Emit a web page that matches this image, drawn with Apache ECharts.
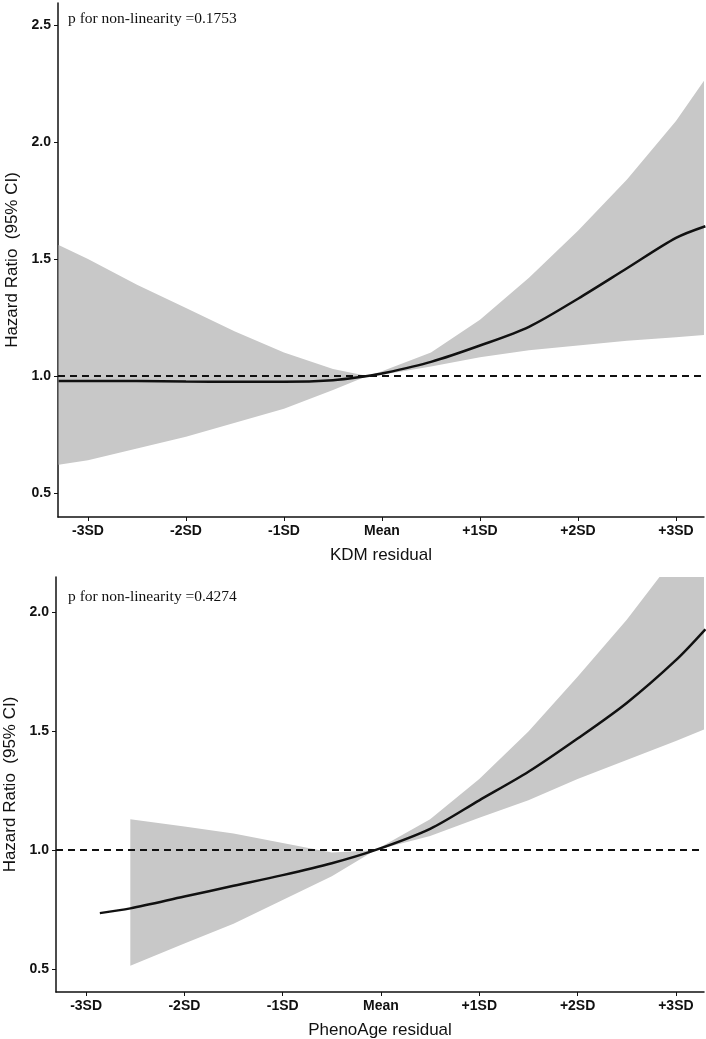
<!DOCTYPE html>
<html>
<head>
<meta charset="utf-8">
<script src="https://cdn.jsdelivr.net/npm/echarts@6/dist/echarts.min.js"></script>
<style>
html,body{margin:0;padding:0;background:#fff;}
#chart{width:706px;height:1039px;}
</style>
</head>
<body>
<div id="chart"></div>
<script>
// ---- tick definitions ----
const xTicks = [-3, -2, -1, 0, 1, 2, 3];
const xTickLabels = ['-3SD', '-2SD', '-1SD', 'Mean', '+1SD', '+2SD', '+3SD'];
const yTicksTop = [0.5, 1.0, 1.5, 2.0, 2.5];
const yTicksBottom = [0.5, 1.0, 1.5, 2.0];

// ---- KDM residual (top panel) ----
const kdmX     = [-3.3, -3, -2.5, -2, -1.5, -1, -0.5, -0.15, 0, 0.5, 1, 1.5, 2, 2.5, 3, 3.3];
const kdmHR    = [0.978, 0.978, 0.978, 0.976, 0.975, 0.975, 0.982, 1.0, 1.01, 1.06, 1.13, 1.21, 1.33, 1.46, 1.59, 1.64];
const kdmUpper = [1.56, 1.50, 1.39, 1.29, 1.19, 1.10, 1.03, 1.0, 1.02, 1.10, 1.24, 1.42, 1.62, 1.84, 2.09, 2.27];
const kdmLower = [0.62, 0.64, 0.69, 0.74, 0.80, 0.86, 0.94, 1.0, 1.005, 1.04, 1.08, 1.11, 1.13, 1.15, 1.165, 1.175];

// ---- PhenoAge residual (bottom panel) ----
const phenoX      = [-2.86, -2.55, -2, -1.5, -1, -0.5, -0.06, 0.5, 1, 1.5, 2, 2.5, 3, 3.3];
const phenoHR     = [0.735, 0.755, 0.805, 0.85, 0.895, 0.945, 1.0, 1.09, 1.21, 1.33, 1.47, 1.62, 1.80, 1.93];
const phenoBandX  = [-2.55, -2, -1.5, -1, -0.5, -0.06, 0.5, 1, 1.5, 2, 2.5, 3, 3.3];
const phenoUpper  = [1.13, 1.10, 1.07, 1.03, 0.99, 1.0, 1.13, 1.30, 1.50, 1.73, 1.97, 2.24, 2.42];
const phenoLower  = [0.513, 0.607, 0.69, 0.79, 0.89, 1.0, 1.06, 1.137, 1.21, 1.30, 1.38, 1.46, 1.51];

const pTexts = ['p for non-linearity =0.1753', 'p for non-linearity =0.4274'];
const xNames = ['KDM residual', 'PhenoAge residual'];
const yName = 'Hazard Ratio  (95% CI)';

const zip = (xs, ys) => xs.map((x, i) => [x, ys[i]]);
const zip3 = (xs, a, b) => xs.map((x, i) => [x, a[i], b[i]]);

const BAND = '#c8c8c8';
const INK = '#111';

function xAxis(gi, name) {
  return {
    type: 'value', gridIndex: gi, min: -3.306, max: 3.286,
    name: name, nameLocation: 'middle', nameGap: 30,
    nameTextStyle: { fontFamily: 'Liberation Sans', fontSize: 17, color: INK },
    axisLine: { show: true, onZero: false, lineStyle: { color: INK, width: 1.5 } },
    axisTick: { show: true, length: 4, customValues: xTicks, lineStyle: { color: INK, width: 1 } },
    axisLabel: {
      customValues: xTicks, margin: 7,
      fontFamily: 'Liberation Sans', fontSize: 14, fontWeight: 'bold', color: INK,
      formatter: v => xTickLabels[xTicks.indexOf(Math.round(v))]
    },
    splitLine: { show: false }
  };
}
function yAxis(gi, min, max, ticks) {
  return {
    type: 'value', gridIndex: gi, min: min, max: max,
    name: yName, nameLocation: 'middle', nameGap: 36, nameRotate: 90,
    nameTextStyle: { fontFamily: 'Liberation Sans', fontSize: 17, color: INK },
    axisLine: { show: true, onZero: false, lineStyle: { color: INK, width: 1.5 } },
    axisTick: { show: true, length: 4, customValues: ticks, lineStyle: { color: INK, width: 1 } },
    axisLabel: {
      customValues: ticks, margin: 7,
      fontFamily: 'Liberation Sans', fontSize: 14, fontWeight: 'bold', color: INK,
      formatter: v => v.toFixed(1)
    },
    splitLine: { show: false }
  };
}
function bandSeries(gi, xs, up, lo) {
  return {
    type: 'custom', xAxisIndex: gi, yAxisIndex: gi, clip: true, silent: true, z: 1,
    data: zip3(xs, up, lo),
    encode: { x: 0, y: [1, 2] },
    renderItem: function (params, api) {
      if (params.dataIndexInside !== 0) return null;
      const n = params.dataInsideLength;
      const top = [], bot = [];
      for (let i = 0; i < n; i++) {
        const x = api.value(0, i);
        top.push(api.coord([x, api.value(1, i)]));
        bot.push(api.coord([x, api.value(2, i)]));
      }
      return {
        type: 'polygon',
        shape: { points: top.concat(bot.reverse()) },
        style: { fill: BAND, stroke: null }
      };
    }
  };
}
function hrSeries(gi, xs, ys) {
  return { type: 'line', xAxisIndex: gi, yAxisIndex: gi, data: zip(xs, ys),
    symbol: 'none', smooth: 0.3, lineStyle: { color: INK, width: 2.5 }, z: 5,
    markLine: { silent: true, symbol: ['none', 'none'], label: { show: false },
      lineStyle: { color: INK, width: 2, type: [7, 5] },
      data: [{ yAxis: 1 }] } };
}

const chart = echarts.init(document.getElementById('chart'), null, { renderer: 'canvas' });
chart.setOption({
  backgroundColor: '#fff',
  animation: false,
  title: [
    { text: pTexts[0], left: 63, top: 6,
      textStyle: { fontFamily: 'Liberation Serif', fontSize: 15.5, fontWeight: 'normal', color: INK } },
    { text: pTexts[1], left: 63, top: 584,
      textStyle: { fontFamily: 'Liberation Serif', fontSize: 15.5, fontWeight: 'normal', color: INK } }
  ],
  grid: [
    { left: 58, right: 2, top: 3, height: 514, containLabel: false, outerBoundsMode: 'none' },
    { left: 56, right: 2, top: 577, height: 415, containLabel: false, outerBoundsMode: 'none' }
  ],
  xAxis: [xAxis(0, xNames[0]), xAxis(1, xNames[1])],
  yAxis: [yAxis(0, 0.397, 2.594, yTicksTop), yAxis(1, 0.403, 2.15, yTicksBottom)],
  series: [
    bandSeries(0, kdmX, kdmUpper, kdmLower),
    hrSeries(0, kdmX, kdmHR),
    bandSeries(1, phenoBandX, phenoUpper, phenoLower),
    hrSeries(1, phenoX, phenoHR)
  ]
});
</script>
</body>
</html>
